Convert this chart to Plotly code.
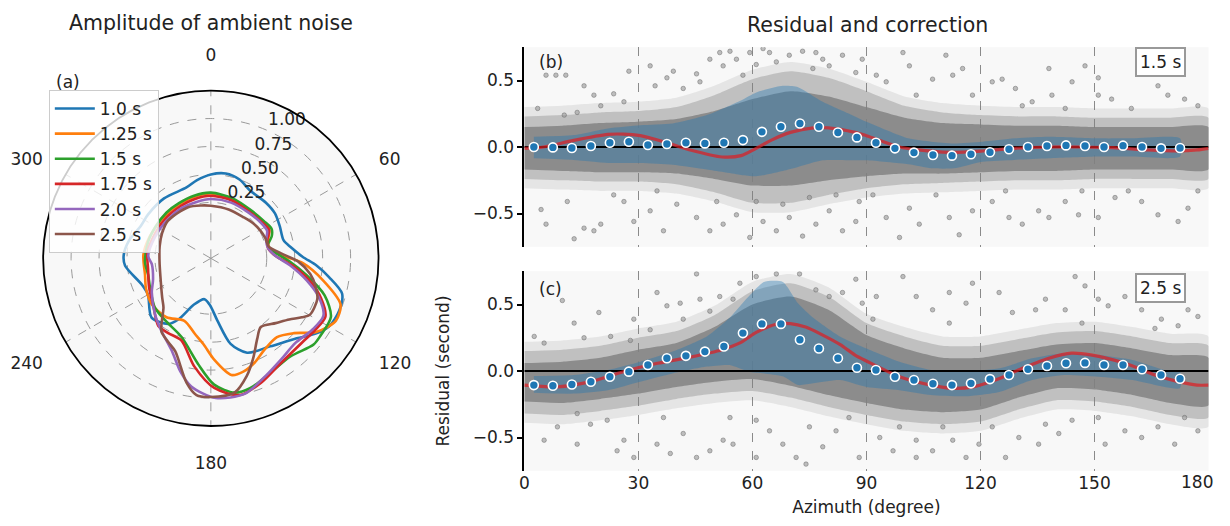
import plotly.graph_objects as go

FONT = "DejaVu Sans"

# ---------------- Polar panel (a): amplitude of ambient noise ----------------
periods = ["1.0 s", "1.25 s", "1.5 s", "1.75 s", "2.0 s", "2.5 s"]
colors = ["#1f77b4", "#ff7f0e", "#2ca02c", "#d62728", "#9467bd", "#8c564b"]

theta_10 = [0, 10, 20, 30, 45, 55, 65, 76, 82, 89, 94, 99, 105, 112, 120, 126, 133, 146, 159, 167, 174, 181,
            189, 200, 208, 213, 225, 240, 249, 265, 272, 282, 295, 305, 322, 341, 350, 360]
amp_10 = [0.50, 0.52, 0.50, 0.45, 0.45, 0.45, 0.43, 0.42, 0.47, 0.57, 0.70, 0.82, 0.965, 0.99, 0.97, 0.90, 0.80,
          0.70, 0.655, 0.535, 0.31, 0.17, 0.12, 0.19, 0.37, 0.45, 0.50, 0.40, 0.41, 0.52, 0.53, 0.50, 0.44, 0.435,
          0.43, 0.42, 0.46, 0.50]

theta_125 = [0, 20, 40, 55, 64, 72, 80, 88, 93, 101, 109.5, 116.6, 125, 132, 140, 150, 157, 164, 170, 178, 185,
             192, 203, 217, 232, 245, 256, 273, 290, 310, 330, 345, 360]
amp_125 = [0.33, 0.31, 0.30, 0.32, 0.33, 0.29, 0.28, 0.40, 0.575, 0.77, 0.98, 1.0, 0.90, 0.75, 0.67, 0.70, 0.76,
           0.805, 0.81, 0.66, 0.52, 0.44, 0.357, 0.41, 0.42, 0.39, 0.357, 0.354, 0.33, 0.31, 0.31, 0.32, 0.33]

theta_15 = [0, 20, 40, 55, 64, 70, 78, 85, 92, 100, 108, 116, 125, 130, 141, 153, 163, 170, 178.5, 187, 200.6,
            216, 228.6, 244, 255, 267, 285, 300, 316, 330, 345, 360]
amp_15 = [0.337, 0.32, 0.31, 0.33, 0.354, 0.33, 0.27, 0.33, 0.45, 0.62, 0.82, 0.945, 0.95, 0.95, 0.88, 0.907,
          0.963, 0.97, 0.88, 0.70, 0.50, 0.44, 0.417, 0.355, 0.33, 0.34, 0.33, 0.32, 0.32, 0.32, 0.33, 0.337]

theta_175 = [0, 20, 40, 55, 64, 72, 80, 88, 95, 103, 110, 117, 125, 133, 147, 158, 168, 178.5, 188.6, 199.8,
             210, 218, 230, 245, 260, 275, 290, 310, 330, 345, 360]
amp_175 = [0.31, 0.30, 0.29, 0.31, 0.33, 0.28, 0.27, 0.33, 0.48, 0.66, 0.80, 0.90, 0.88, 0.86, 0.88, 0.95, 1.0,
           0.91, 0.73, 0.53, 0.52, 0.515, 0.42, 0.36, 0.32, 0.32, 0.30, 0.29, 0.29, 0.30, 0.31]

theta_20 = [0, 20, 40, 55, 64, 72, 80, 88, 95, 103, 110, 117, 125, 135, 145, 155, 166, 178, 188.7, 195, 203,
            215, 225, 240, 250, 264, 272, 291, 310, 330, 345, 360]
amp_20 = [0.28, 0.28, 0.28, 0.30, 0.31, 0.27, 0.27, 0.33, 0.46, 0.63, 0.78, 0.88, 0.86, 0.82, 0.85, 0.91, 1.0,
          1.0, 0.91, 0.80, 0.646, 0.53, 0.457, 0.36, 0.30, 0.28, 0.31, 0.285, 0.27, 0.27, 0.27, 0.28]

theta_25 = [0, 20, 39, 50, 60.5, 70, 79, 86, 92, 99, 105, 111, 119.6, 123, 128, 135, 144, 150, 157, 163, 170,
            180, 186, 191, 201, 207, 214, 224, 231, 250, 266, 283, 297, 311, 336, 350, 360]
amp_25 = [0.22, 0.215, 0.22, 0.24, 0.257, 0.27, 0.28, 0.38, 0.53, 0.65, 0.72, 0.77, 0.77, 0.72, 0.64, 0.57,
          0.51, 0.58, 0.72, 0.85, 0.97, 0.99, 0.98, 0.885, 0.64, 0.59, 0.54, 0.36, 0.31, 0.23, 0.21, 0.22, 0.24,
          0.26, 0.25, 0.23, 0.22]

polar_thetas = [theta_10, theta_125, theta_15, theta_175, theta_20, theta_25]
polar_amps = [amp_10, amp_125, amp_15, amp_175, amp_20, amp_25]

radial_range = [-0.25, 1.25]
radial_ticks = [0.25, 0.5, 0.75, 1.0]
radial_ticktext = ["0.25", "0.50", "0.75", "1.00"]
angular_ticks = [0, 60, 120, 180, 240, 300]

# ---------------- Right panels: residual and correction ----------------
azi_bins = [2.5, 7.5, 12.5, 17.5, 22.5, 27.5, 32.5, 37.5, 42.5, 47.5, 52.5, 57.5, 62.5, 67.5, 72.5, 77.5, 82.5,
            87.5, 92.5, 97.5, 102.5, 107.5, 112.5, 117.5, 122.5, 127.5, 132.5, 137.5, 142.5, 147.5, 152.5, 157.5,
            162.5, 167.5, 172.5]
mean_b = [0.0, -0.003, -0.008, 0.007, 0.032, 0.04, 0.015, 0.022, 0.032, 0.027, 0.032, 0.052, 0.114, 0.152, 0.177,
          0.152, 0.109, 0.072, 0.032, -0.01, -0.042, -0.06, -0.065, -0.055, -0.04, -0.017, 0.0, 0.007, 0.012,
          0.007, 0.0, 0.01, 0.0, -0.01, -0.007]
mean_c = [-0.106, -0.111, -0.101, -0.081, -0.043, -0.005, 0.045, 0.096, 0.114, 0.146, 0.184, 0.285, 0.354, 0.354,
          0.235, 0.169, 0.096, 0.025, 0.008, -0.043, -0.068, -0.096, -0.106, -0.093, -0.061, -0.03, 0.013, 0.038,
          0.058, 0.061, 0.045, 0.045, 0.013, -0.03, -0.058]

# standard-deviation band (upper / lower edge)
band_b_x = [2.5, 13, 22, 30.5, 39, 48, 57, 61, 68, 72, 78.5, 87, 90, 101, 107, 113, 120.5, 129, 138, 151, 160,
            172.5]
band_b_hi = [0.077, 0.09, 0.14, 0.164, 0.177, 0.24, 0.35, 0.41, 0.46, 0.45, 0.34, 0.23, 0.19, 0.065, 0.04, 0.027,
             0.04, 0.065, 0.077, 0.065, 0.065, 0.065]
band_b_lo = [-0.085, -0.097, -0.12, -0.12, -0.134, -0.17, -0.21, -0.22, -0.18, -0.15, -0.1, -0.1, -0.1, -0.13,
             -0.16, -0.16, -0.11, -0.097, -0.085, -0.072, -0.072, -0.072]

band_c_x = [2.5, 13, 22, 30.5, 39, 48, 54, 59, 63, 68, 72, 76, 83, 90, 98.7, 107, 116, 125, 133.6, 142, 151, 160,
            168.5, 172.5]
band_c_hi = [-0.038, -0.03, 0.008, 0.07, 0.146, 0.26, 0.4, 0.56, 0.67, 0.67, 0.51, 0.4, 0.26, 0.17, 0.07, 0.008,
             -0.005, 0.02, 0.096, 0.134, 0.12, 0.083, 0.008, -0.005]
band_c_lo = [-0.164, -0.17, -0.144, -0.08, -0.018, 0.033, 0.045, -0.005, -0.018, -0.04, -0.106, -0.093, -0.068,
             -0.12, -0.144, -0.18, -0.19, -0.157, -0.068, -0.03, -0.043, -0.068, -0.12, -0.13]

# fitted correction curve
fit_b_x = [0, 5, 13, 22, 26, 30.5, 36.6, 43.6, 52, 57, 61, 65, 70, 76, 80, 87, 90, 98.7, 103, 112, 120.5, 129,
           138, 146.7, 155, 164, 172, 177, 180]
fit_b_y = [-0.01, 0.0, 0.05, 0.095, 0.097, 0.085, 0.04, -0.022, -0.075, -0.065, -0.01, 0.052, 0.11, 0.144, 0.144,
           0.11, 0.085, 0.0, -0.02, -0.04, -0.03, -0.01, 0.0, 0.0, -0.005, -0.022, -0.03, -0.022, -0.01]
fit_c_x = [0, 8.7, 17.4, 26, 35, 43.6, 52, 57, 61, 66, 70, 74, 78.5, 83, 87, 90, 98.7, 107, 112.7, 118, 125, 130,
           138, 144, 149, 158, 166.7, 172, 177, 180]
fit_c_y = [-0.106, -0.119, -0.08, -0.005, 0.058, 0.104, 0.16, 0.215, 0.29, 0.35, 0.356, 0.33, 0.27, 0.2, 0.12,
           0.075, -0.043, -0.106, -0.13, -0.119, -0.056, 0.008, 0.096, 0.134, 0.121, 0.058, -0.038, -0.08, -0.106,
           -0.106]

# dense part of the residual cloud: core, halo and fringe edges
cloud_x = [0, 10, 20, 30, 40, 50, 60, 70, 80, 90, 100, 110, 120, 130, 140, 150, 160, 170, 180]
core_b_hi = [0.15, 0.16, 0.18, 0.19, 0.21, 0.27, 0.36, 0.42, 0.38, 0.30, 0.22, 0.18, 0.17, 0.16, 0.16, 0.15, 0.15,
             0.15, 0.15]
core_b_lo = [-0.17, -0.18, -0.19, -0.19, -0.20, -0.24, -0.29, -0.29, -0.25, -0.22, -0.20, -0.20, -0.19, -0.18,
             -0.18, -0.17, -0.17, -0.17, -0.17]
halo_b_hi = [0.23, 0.24, 0.26, 0.27, 0.30, 0.39, 0.51, 0.57, 0.52, 0.42, 0.31, 0.26, 0.24, 0.23, 0.23, 0.22, 0.22,
             0.22, 0.22]
halo_b_lo = [-0.24, -0.25, -0.26, -0.26, -0.28, -0.34, -0.42, -0.42, -0.36, -0.31, -0.28, -0.27, -0.26, -0.25,
             -0.25, -0.24, -0.24, -0.24, -0.24]
fringe_b_hi = [0.30, 0.31, 0.33, 0.34, 0.37, 0.46, 0.58, 0.64, 0.59, 0.49, 0.38, 0.33, 0.31, 0.30, 0.30, 0.29,
               0.29, 0.29, 0.29]
fringe_b_lo = [-0.31, -0.32, -0.33, -0.33, -0.35, -0.41, -0.49, -0.49, -0.43, -0.38, -0.35, -0.34, -0.33, -0.32,
               -0.32, -0.31, -0.31, -0.31, -0.31]
core_c_hi = [0.06, 0.07, 0.10, 0.16, 0.21, 0.33, 0.50, 0.56, 0.46, 0.27, 0.17, 0.10, 0.10, 0.15, 0.20, 0.21, 0.17,
             0.12, 0.10]
core_c_lo = [-0.23, -0.24, -0.21, -0.17, -0.12, -0.08, -0.06, -0.11, -0.18, -0.24, -0.29, -0.31, -0.29, -0.20,
             -0.13, -0.14, -0.18, -0.24, -0.26]
halo_c_hi = [0.15, 0.16, 0.19, 0.25, 0.30, 0.42, 0.60, 0.66, 0.56, 0.36, 0.26, 0.19, 0.19, 0.24, 0.29, 0.30, 0.26,
             0.21, 0.19]
halo_c_lo = [-0.32, -0.33, -0.30, -0.26, -0.21, -0.17, -0.15, -0.20, -0.27, -0.33, -0.38, -0.40, -0.38, -0.29,
             -0.22, -0.23, -0.27, -0.33, -0.35]
fringe_c_hi = [0.22, 0.23, 0.26, 0.32, 0.37, 0.49, 0.67, 0.73, 0.63, 0.43, 0.33, 0.26, 0.26, 0.31, 0.36, 0.37,
               0.33, 0.28, 0.26]
fringe_c_lo = [-0.39, -0.40, -0.37, -0.33, -0.28, -0.24, -0.22, -0.27, -0.34, -0.40, -0.45, -0.47, -0.45, -0.36,
               -0.29, -0.30, -0.34, -0.40, -0.42]

# sparse outlying residuals
sparse_b_x = [5.7, 8.3, 10.9, 18.3, 23.5, 27.5, 33.1, 34.4, 37.5, 39.2, 41.8, 45.3, 46.2, 48.8, 51.4, 52.3, 54.1,
              55.8, 57.5, 59.3, 61.0, 62.8, 64.5, 66.3, 69.7, 73.2, 75.9, 76.7, 78.5, 80.2, 83.7, 87.2, 88.9, 20.1,
              13.9, 3.5, 10.5, 26.2, 15.7,
              4.4, 11.3, 15.7, 18.3, 20.1, 26.2, 28.8, 33.1, 36.6, 40.1, 45.3, 48.8, 52.3, 55.8, 59.3, 62.8, 66.3,
              69.7, 73.2, 76.7, 80.2, 83.7, 87.2, 5.7, 13.1, 23.5, 34.9, 50.6, 61.0, 68.0, 75.0, 82.0, 88.1,
              92.6, 95.2, 99.6, 101.3, 107.4, 110.9, 112.7, 115.3, 123.1, 125.7, 129.2, 131.0, 133.6, 138.0, 142.3,
              147.5, 151.0, 154.5, 159.7, 166.7, 169.3, 173.7, 177.2, 103.1, 117.9, 138.8, 144.1, 151.0,
              91.7, 95.2, 98.7, 101.3, 103.9, 108.3, 111.8, 114.4, 117.9, 123.1, 127.5, 131.0, 135.3, 138.0, 142.3,
              145.8, 151.0, 155.4, 158.9, 162.4, 166.7, 172.0, 174.6, 177.2, 126.6, 146.7]
sparse_b_y = [0.54, 0.54, 0.54, 0.39, 0.40, 0.57, 0.61, 0.46, 0.52, 0.57, 0.44, 0.55, 0.49, 0.66, 0.71, 0.61,
              0.72, 0.66, 0.54, 0.71, 0.62, 0.74, 0.71, 0.64, 0.69, 0.72, 0.59, 0.71, 0.66, 0.61, 0.69, 0.56, 0.66,
              0.31, 0.26, 0.29, 0.24, 0.34, 0.46,
              -0.47, -0.41, -0.61, -0.63, -0.58, -0.41, -0.56, -0.48, -0.63, -0.43, -0.53, -0.63, -0.58, -0.51,
              -0.68, -0.56, -0.63, -0.53, -0.67, -0.58, -0.48, -0.63, -0.56, -0.58, -0.69, -0.36, -0.33, -0.41,
              -0.41, -0.43, -0.38, -0.36, -0.41,
              0.54, 0.49, 0.71, 0.61, 0.51, 0.69, 0.54, 0.59, 0.49, 0.51, 0.44, 0.31, 0.34, 0.59, 0.29, 0.61, 0.39,
              0.36, 0.29, 0.46, 0.39, 0.36, 0.31, 0.39, 0.39, 0.39, 0.49, 0.52,
              -0.36, -0.53, -0.68, -0.46, -0.58, -0.36, -0.53, -0.66, -0.48, -0.41, -0.53, -0.58, -0.48, -0.53,
              -0.41, -0.51, -0.53, -0.38, -0.33, -0.41, -0.51, -0.56, -0.46, -0.33, -0.33, -0.33]

sparse_c_x = [2.6, 10.0, 13.1, 19.6, 22.7, 27.9, 28.8, 34.9, 37.5, 41.0, 45.3, 46.2, 48.8, 51.4, 54.9, 56.7, 61.0,
              66.3, 72.4, 76.7, 80.2, 83.7, 87.2, 88.9, 5.2, 15.7, 33.1, 41.8,
              5.2, 8.7, 13.9, 17.4, 21.8, 24.4, 26.2, 28.8, 34.9, 38.4, 41.8, 45.3, 48.8, 52.3, 54.9, 61.0, 64.5,
              68.0, 71.5, 75.0, 78.5, 82.0, 85.4, 88.1, 13.9, 36.6, 54.1, 61.0, 74.1,
              92.6, 99.6, 103.1, 107.4, 111.8, 116.2, 117.9, 124.9, 128.4, 134.5, 137.1, 142.3, 144.9, 147.5, 151.0,
              153.6, 158.0, 162.4, 167.6, 172.0, 174.6, 177.2, 91.7, 111.8, 146.7, 165.9,
              93.5, 97.0, 98.7, 103.1, 107.4, 110.1, 112.7, 116.2, 119.6, 123.1, 126.6, 130.1, 135.3, 140.6, 144.1,
              151.0, 152.8, 158.0, 162.4, 166.7, 171.1, 173.7, 177.2, 103.1, 137.1]
sparse_c_y = [0.26, 0.53, 0.36, 0.44, 0.26, 0.23, 0.39, 0.59, 0.49, 0.51, 0.73, 0.54, 0.45, 0.56, 0.54, 0.66,
              0.71, 0.73, 0.73, 0.61, 0.56, 0.59, 0.69, 0.51, 0.21, 0.25, 0.31, 0.39,
              -0.52, -0.42, -0.55, -0.40, -0.37, -0.60, -0.52, -0.65, -0.55, -0.62, -0.47, -0.65, -0.60, -0.52,
              -0.55, -0.37, -0.45, -0.55, -0.65, -0.42, -0.57, -0.45, -0.35, -0.65, -0.32, -0.35, -0.35, -0.65,
              -0.70,
              0.56, 0.71, 0.56, 0.46, 0.59, 0.51, 0.66, 0.59, 0.44, 0.46, 0.54, 0.46, 0.71, 0.64, 0.54, 0.49, 0.56,
              0.46, 0.39, 0.34, 0.46, 0.41, 0.39, 0.36, 0.36, 0.32,
              -0.50, -0.60, -0.42, -0.52, -0.60, -0.42, -0.52, -0.65, -0.55, -0.42, -0.65, -0.50, -0.55, -0.47,
              -0.37, -0.35, -0.55, -0.45, -0.50, -0.42, -0.55, -0.35, -0.45, -0.65, -0.40]

x_ticks = [0, 30, 60, 90, 120, 150, 180]
y_ticks = [-0.5, 0.0, 0.5]
y_range = [-0.75, 0.75]

# ---------------- layout geometry (pixels of the rendered page) ----------------
W, H = 1215, 526


def px_x(p):
    return p / W


def px_y(p):
    return 1 - p / H


TXT = "#222222"
fig = go.Figure()

# ---- polar traces ----
for name, col, th, rr in zip(periods, colors, polar_thetas, polar_amps):
    fig.add_trace(go.Scatterpolar(
        theta=th, r=rr, mode="lines", name=name, legendgroup=name,
        line=dict(color=col, width=2.6, shape="spline", smoothing=0.8),
        subplot="polar"))

# radial tick labels, set just outside each ring along the 29 degree direction (as in the original)
fig.add_trace(go.Scatterpolar(
    theta=[29] * len(radial_ticks), r=[t + 0.155 for t in radial_ticks], mode="text",
    text=radial_ticktext, textfont=dict(family=FONT, size=17, color=TXT), textposition="middle center",
    showlegend=False, hoverinfo="skip", subplot="polar"))


def polygon(xs, hi, lo):
    return list(xs) + list(xs)[::-1], list(hi) + list(lo)[::-1]


panels = [
    ("x", "y", [(fringe_b_hi, fringe_b_lo, 0.16), (halo_b_hi, halo_b_lo, 0.36), (core_b_hi, core_b_lo, 0.82)],
     sparse_b_x, sparse_b_y, band_b_x, band_b_hi, band_b_lo, fit_b_x, fit_b_y, mean_b),
    ("x2", "y2", [(fringe_c_hi, fringe_c_lo, 0.16), (halo_c_hi, halo_c_lo, 0.36), (core_c_hi, core_c_lo, 0.82)],
     sparse_c_x, sparse_c_y, band_c_x, band_c_hi, band_c_lo, fit_c_x, fit_c_y, mean_c),
]

for (xa, ya, layers, sx, sy, bx, bhi, blo, fx, fy, mv) in panels:
    for hi, lo, alpha in layers:
        px, py = polygon(cloud_x, hi, lo)
        fig.add_trace(go.Scatter(x=px, y=py, fill="toself", mode="lines",
                                 line=dict(width=0, shape="spline", smoothing=0.6),
                                 fillcolor=f"rgba(128,128,128,{alpha})", showlegend=False, hoverinfo="skip",
                                 xaxis=xa, yaxis=ya))
    fig.add_trace(go.Scatter(x=sx, y=sy, mode="markers",
                             marker=dict(size=4.5, color="rgba(150,150,150,0.6)",
                                         line=dict(width=0.7, color="rgba(105,105,105,0.7)")),
                             showlegend=False, hoverinfo="skip", xaxis=xa, yaxis=ya))
    px, py = polygon(bx, bhi, blo)
    fig.add_trace(go.Scatter(x=px, y=py, fill="toself", mode="lines",
                             line=dict(width=0, shape="spline", smoothing=0.6),
                             fillcolor="rgba(31,119,180,0.38)", showlegend=False, hoverinfo="skip",
                             xaxis=xa, yaxis=ya))
    fig.add_trace(go.Scatter(x=[x_ticks[0], x_ticks[-1]], y=[0, 0], mode="lines",
                             line=dict(color="black", width=1.8), showlegend=False, hoverinfo="skip",
                             xaxis=xa, yaxis=ya))
    fig.add_trace(go.Scatter(x=fx, y=fy, mode="lines",
                             line=dict(color="rgba(222,30,35,0.72)", width=3.2, shape="spline", smoothing=0.8),
                             showlegend=False, hoverinfo="skip", xaxis=xa, yaxis=ya))
    fig.add_trace(go.Scatter(x=azi_bins, y=mv, mode="markers",
                             marker=dict(size=9, color="#1f77b4", line=dict(width=1.6, color="white")),
                             showlegend=False, hoverinfo="skip", xaxis=xa, yaxis=ya))

axis_font = dict(family=FONT, size=17, color=TXT)
xdom = [px_x(521.5), px_x(1208.5)]

common_x = dict(range=[0, 180], tickvals=x_ticks, showgrid=True, gridcolor="#8a8a8a", griddash="dash",
                gridwidth=1.2, zeroline=False, showline=False, ticks="", tickfont=axis_font, domain=xdom)
common_y = dict(range=y_range, tickvals=y_ticks, ticktext=["\u22120.5", "0.0", "0.5"], showgrid=False,
                zeroline=False, showline=True, linecolor="black", linewidth=2, ticks="outside", ticklen=5,
                tickwidth=1.5, tickcolor="black", tickfont=axis_font)


def label(text, x, y, xref, yref, size=17, xanchor="center", **kw):
    return dict(text=text, x=x, y=y, xref=xref, yref=yref, xanchor=xanchor, yanchor="middle",
                showarrow=False, font=dict(family=FONT, size=size, color=TXT), **kw)


box = dict(bgcolor="white", bordercolor="#999999", borderwidth=2, borderpad=3)

cx, cy, rad = 206.7, 258.3, 168.4

fig.update_layout(
    width=W, height=H, autosize=False,
    margin=dict(l=0, r=0, t=0, b=0),
    paper_bgcolor="white", plot_bgcolor="#f8f8f8",
    font=dict(family=FONT, size=17, color=TXT),
    xaxis=dict(common_x, anchor="y", showticklabels=False),
    yaxis=dict(common_y, domain=[px_y(246.75), px_y(47.25)], anchor="x"),
    xaxis2=dict(common_x, anchor="y2",
                title=dict(text="Azimuth (degree)", font=dict(family=FONT, size=17, color=TXT), standoff=9)),
    yaxis2=dict(common_y, domain=[px_y(470.75), px_y(271.25)], anchor="x2",
                title=dict(text="Residual (second)", font=dict(family=FONT, size=17, color=TXT), standoff=19)),
    polar=dict(
        domain=dict(x=[px_x(cx - rad), px_x(cx + rad)], y=[px_y(cy + rad), px_y(cy - rad)]),
        bgcolor="#f8f8f8",
        angularaxis=dict(rotation=90, direction="clockwise", tickvals=angular_ticks,
                         ticktext=[str(t) for t in angular_ticks], showline=True, linecolor="black",
                         linewidth=1.8, showgrid=True, gridcolor="#9a9a9a", griddash="dash", gridwidth=1.2,
                         ticks="outside", ticklen=22, tickcolor="rgba(0,0,0,0)", tickfont=axis_font),
        radialaxis=dict(range=radial_range, tickvals=radial_ticks, showticklabels=False, showline=False,
                        ticks="", showgrid=True, gridcolor="#9a9a9a", griddash="dash", gridwidth=1.2),
    ),
    legend=dict(x=px_x(44), y=px_y(90), xanchor="left", yanchor="top", bgcolor="rgba(255,255,255,0.8)",
                bordercolor="#cccccc", borderwidth=1, font=dict(family=FONT, size=17, color=TXT),
                tracegroupgap=0, itemwidth=40),
    annotations=[
        label("Amplitude of ambient noise", px_x(206.7), px_y(22.7), "paper", "paper", size=20.5),
        label("Residual and correction", px_x(866), px_y(25), "paper", "paper", size=20.5),
        label("(a)", px_x(63), px_y(82), "paper", "paper"),
        label("(b)", 0.0385, 0.9236, "x domain", "y domain"),
        label("(c)", 0.0385, 0.9135, "x2 domain", "y2 domain"),
        label("1.5 s", 0.930, 0.9236, "x domain", "y domain", **box),
        label("2.5 s", 0.930, 0.9175, "x2 domain", "y2 domain", **box),
        # last x tick label, which would otherwise be dropped at the page edge
        label(str(x_ticks[-1]), 1.0, px_y(482), "paper", "paper", xanchor="right"),
    ],
)

fig.write_html(
    "out.html",
    config={"displayModeBar": False, "responsive": False},
    post_script=("document.documentElement.style.overflow='hidden';"
                 "document.body.style.overflow='hidden';"
                 "document.body.style.margin='0px';"),
)
